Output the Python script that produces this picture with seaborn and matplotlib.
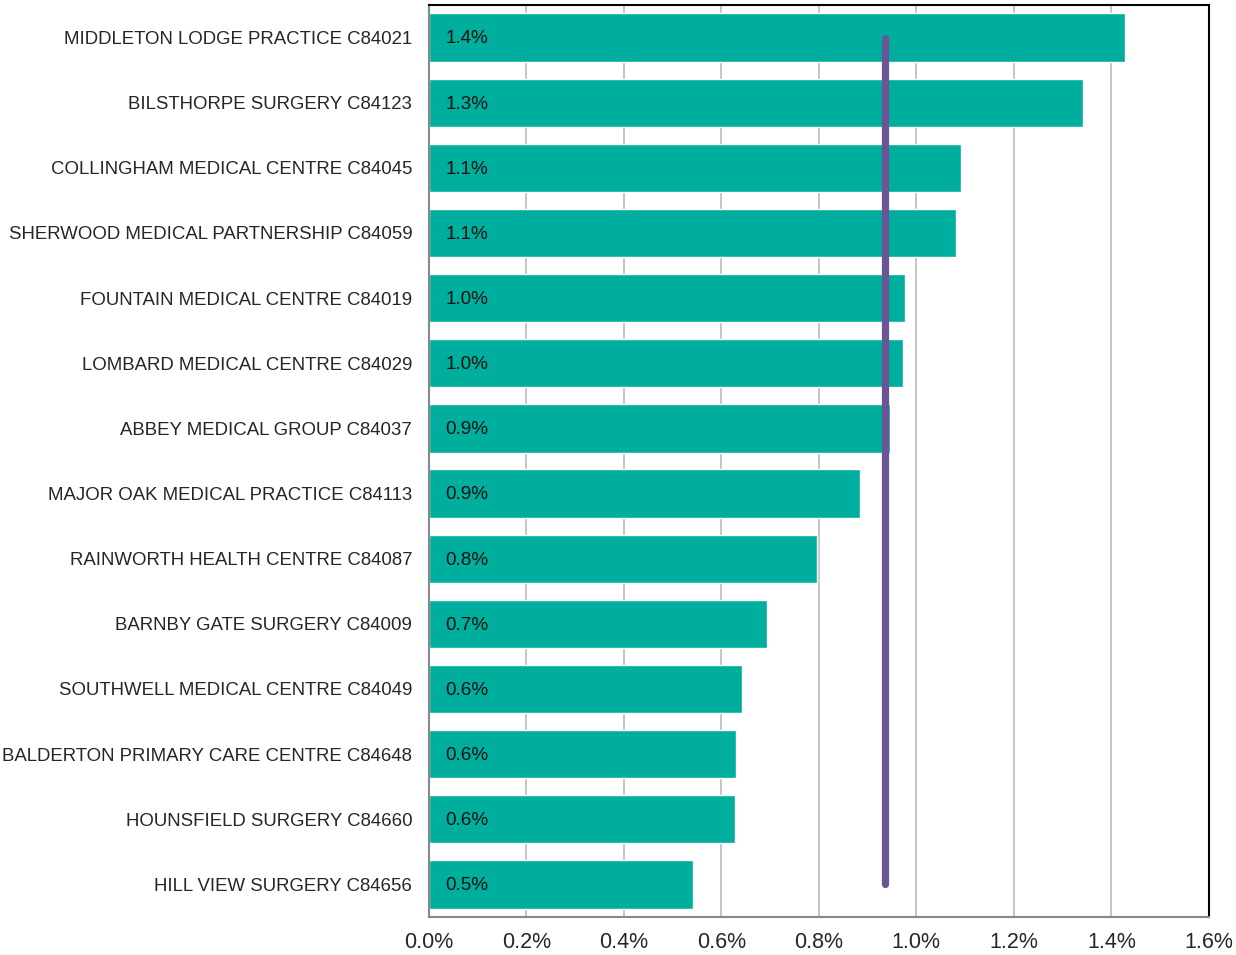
import matplotlib
matplotlib.use("Agg")
import matplotlib.pyplot as plt
import seaborn as sns
import pandas as pd
import numpy as np
from matplotlib.ticker import FuncFormatter, FixedLocator

practices = [
    "MIDDLETON LODGE PRACTICE C84021",
    "BILSTHORPE SURGERY C84123",
    "COLLINGHAM MEDICAL CENTRE C84045",
    "SHERWOOD MEDICAL PARTNERSHIP C84059",
    "FOUNTAIN MEDICAL CENTRE C84019",
    "LOMBARD MEDICAL CENTRE C84029",
    "ABBEY MEDICAL GROUP C84037",
    "MAJOR OAK MEDICAL PRACTICE C84113",
    "RAINWORTH HEALTH CENTRE C84087",
    "BARNBY GATE SURGERY C84009",
    "SOUTHWELL MEDICAL CENTRE C84049",
    "BALDERTON PRIMARY CARE CENTRE C84648",
    "HOUNSFIELD SURGERY C84660",
    "HILL VIEW SURGERY C84656",
]
values = [1.428, 1.342, 1.091, 1.081, 0.976, 0.972, 0.946, 0.884, 0.796, 0.693, 0.642, 0.630, 0.628, 0.542]
average = 0.935
x_ticks = [0.0, 0.2, 0.4, 0.6, 0.8, 1.0, 1.2, 1.4, 1.6]

sns.set_style("white")
plt.rcParams['font.family'] = ['Liberation Sans', 'DejaVu Sans']

df = pd.DataFrame({"practice": practices, "value": values})

fig = plt.figure(figsize=(12.36, 9.55), dpi=100)
ax = fig.add_axes([0.347, 0.0398, 0.631, 0.955])

sns.barplot(data=df, x="value", y="practice", orient="h", color="#00AE9E",
            saturation=1, width=0.74, ax=ax, zorder=2)

ax.plot([average, average], [0, len(practices) - 1], color="#6B5595", lw=5.2,
        solid_capstyle="round", zorder=4)

for i, v in enumerate(values):
    ax.annotate(f"{v:.1f}%", xy=(0, i), xytext=(12, -1), textcoords="offset points",
                va="center", ha="left", fontsize=13.6, color="#111111", zorder=5)

ax.set_xlim(0, 1.6)
ax.set_ylim(len(practices) - 0.5, -0.5)
ax.xaxis.set_major_locator(FixedLocator(x_ticks))
ax.xaxis.set_major_formatter(FuncFormatter(lambda x, p: f"{x:.1f}%"))
ax.grid(axis="x", color="#C0C0C0", lw=1.3, zorder=0)
ax.set_axisbelow(True)
ax.set_xlabel("")
ax.set_ylabel("")

ax.tick_params(axis="x", which="major", length=5, width=1.3, color="#888888",
               labelsize=15.5, pad=6, direction="out")
ax.tick_params(axis="y", which="major", length=0, labelsize=13.4, pad=12)
ax.yaxis.set_minor_locator(FixedLocator(np.arange(-0.5, len(practices), 1.0)))
ax.tick_params(axis="y", which="minor", length=5, width=1.3, color="#888888", direction="out")

for s in ["left", "bottom"]:
    ax.spines[s].set_color("#888888")
    ax.spines[s].set_linewidth(1.5)
for s in ["top", "right"]:
    ax.spines[s].set_color("#000000")
    ax.spines[s].set_linewidth(1.5)
    ax.spines[s].set_visible(True)

fig.savefig("out.png", dpi=100)
